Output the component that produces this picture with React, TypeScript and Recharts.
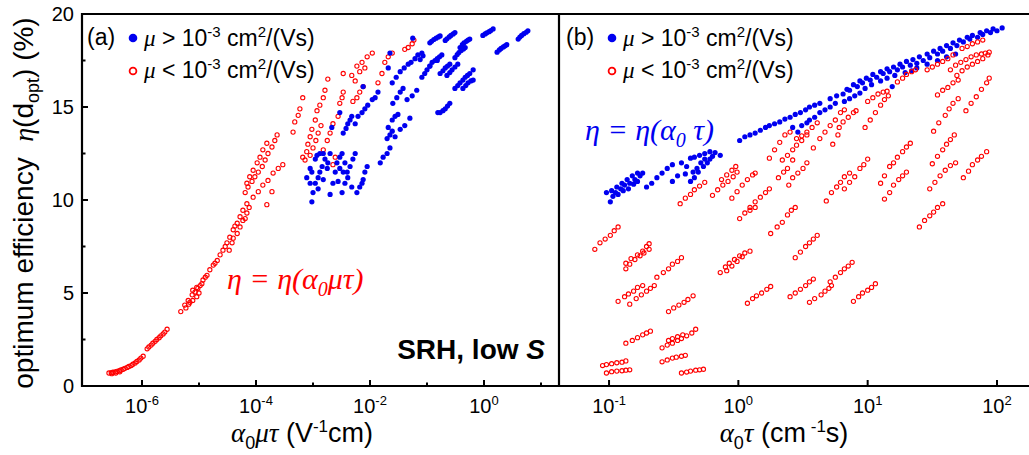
import React from "react";
import { ScatterChart, Scatter, XAxis, YAxis } from "recharts";

const SANS = "'Liberation Sans', Arial, sans-serif";
const SERIF = "'Liberation Serif', 'Times New Roman', serif";
const BLUE = "#0000f0";
const RED = "#ff0000";

// panel (a): [log10(alpha0*mu*tau), eta %]
const aRedLg: [number, number][] = [
  [-6.58, 0.7], [-6.54, 0.72], [-6.53, 0.66], [-6.51, 0.74], [-6.47, 0.76], [-6.46, 0.7], [-6.44, 0.79], [-6.4, 0.82],
  [-6.39, 0.76], [-6.37, 0.86], [-6.33, 0.9], [-6.3, 0.95], [-6.26, 1.0], [-6.23, 1.05], [-6.19, 1.1], [-6.16, 1.17],
  [-6.12, 1.24], [-6.09, 1.32], [-6.05, 1.4], [-6.02, 1.5], [-5.98, 1.6],
  [-5.91, 2.0], [-5.88, 2.1], [-5.84, 2.2], [-5.81, 2.3], [-5.77, 2.4], [-5.74, 2.5], [-5.7, 2.6], [-5.67, 2.7],
  [-5.63, 2.8], [-5.6, 2.9], [-5.56, 3.05],
  [-5.32, 4.0], [-5.25, 4.35], [-5.23, 4.2], [-5.19, 4.6], [-5.18, 4.4], [-5.16, 4.5], [-5.12, 4.9], [-5.11, 4.6],
  [-5.11, 5.15], [-5.07, 5.05], [-5.04, 4.8], [-5.04, 5.3], [-5.02, 5.25], [-5.0, 5.0], [-4.98, 5.4], [-4.95, 5.5],
  [-4.93, 5.7], [-4.89, 5.85], [-4.86, 5.95], [-4.81, 6.25], [-4.75, 6.5], [-4.72, 6.6], [-4.68, 6.75], [-4.63, 7.05],
  [-4.58, 7.3], [-4.54, 7.5], [-4.51, 7.7], [-4.47, 7.3], [-4.46, 8.0], [-4.42, 7.7], [-4.4, 8.4], [-4.4, 7.95],
  [-4.37, 8.6], [-4.33, 8.75], [-4.33, 8.2], [-4.28, 9.1], [-4.28, 8.55], [-4.23, 9.45], [-4.23, 8.9], [-4.19, 9.0],
  [-4.16, 9.8], [-4.16, 9.3], [-4.12, 9.6], [-3.81, 9.75],
  [-4.19, 10.4], [-4.14, 10.7], [-4.07, 11.0], [-4.02, 11.25], [-3.96, 11.5], [-3.89, 11.8], [-3.84, 12.15], [-3.79, 12.5],
  [-3.72, 12.85], [-3.67, 13.2], [-3.63, 13.5], [-4.16, 10.9], [-4.11, 11.25], [-4.05, 11.6], [-3.98, 12.0], [-3.93, 12.3],
  [-3.88, 12.7], [-3.81, 13.05], [-4.05, 10.15], [-3.96, 10.45], [-3.88, 10.8], [-3.79, 11.05], [-3.7, 11.45], [-3.61, 11.7],
  [-3.53, 11.9], [-3.72, 10.45],
  [-3.35, 13.65], [-3.32, 14.2], [-3.26, 14.55], [-3.23, 14.9], [-3.18, 15.5],
  [-3.14, 12.15], [-3.11, 12.6], [-3.09, 13.0], [-3.05, 13.4], [-3.02, 13.8], [-2.96, 14.3], [-2.93, 14.8], [-2.88, 15.1],
  [-2.82, 15.5], [-2.79, 15.9], [-2.74, 16.5], [-3.05, 12.4], [-3.0, 12.8], [-2.95, 13.2], [-2.91, 13.6], [-2.86, 14.0],
  [-2.82, 12.7], [-2.75, 13.2], [-2.7, 13.6], [-2.65, 14.1], [-2.56, 14.5], [-2.53, 15.2], [-2.49, 15.5], [-2.47, 15.8],
  [-2.47, 16.8], [-3.18, 12.3], [-2.65, 11.9], [-2.61, 12.3],
  [-2.32, 16.7], [-2.23, 17.2], [-2.14, 17.4], [-2.05, 17.7], [-1.96, 17.9], [-2.09, 17.1], [-2.18, 16.9], [-2.26, 16.4],
  [-2.3, 15.3], [-2.23, 15.5], [-2.18, 15.8], [-2.12, 16.1], [-1.86, 16.3], [-1.79, 16.8], [-1.74, 17.4], [-1.68, 17.7],
  [-1.61, 17.9], [-1.39, 18.1], [-1.33, 18.2], [-1.26, 18.4], [-1.23, 18.6],
];

const aBlueLg: [number, number][] = [
  [-3.02, 9.9], [-3.0, 10.4], [-3.05, 10.9], [-3.11, 11.2], [-3.05, 11.7], [-2.96, 12.2], [-2.93, 12.4], [-2.88, 12.5],
  [-2.82, 12.5], [-2.7, 12.5], [-2.91, 11.2], [-2.84, 11.8], [-2.82, 11.1], [-2.79, 12.2], [-2.75, 11.7], [-2.96, 10.9],
  [-2.91, 10.6], [-2.88, 11.5], [-3.02, 11.5], [-2.74, 12.0],
  [-2.7, 10.3], [-2.65, 10.9], [-2.61, 11.5], [-2.58, 12.0], [-2.53, 12.3], [-2.49, 12.5], [-2.47, 11.5], [-2.44, 10.9],
  [-2.49, 10.4], [-2.39, 11.2], [-2.35, 11.8], [-2.3, 12.2], [-2.26, 12.5], [-2.32, 10.7], [-2.56, 11.0], [-2.53, 11.7],
  [-2.44, 12.0], [-2.4, 11.5],
  [-2.23, 10.4], [-2.18, 10.7], [-2.12, 11.1], [-2.09, 11.5], [-2.05, 11.8], [-2.14, 10.9],
  [-2.67, 13.9], [-2.53, 14.7], [-2.47, 13.6], [-2.42, 13.85], [-2.39, 14.1], [-2.35, 14.3], [-2.32, 14.5],
  [-2.26, 14.1], [-2.21, 14.5], [-2.14, 14.7], [-2.09, 14.9], [-2.04, 15.1], [-1.96, 15.4], [-1.91, 15.5], [-1.86, 15.8],
  [-2.12, 16.1], [-1.82, 12.0], [-1.77, 12.3], [-1.7, 12.5], [-1.65, 12.8], [-1.7, 13.3], [-1.65, 13.5], [-1.61, 13.7],
  [-1.68, 13.9], [-1.61, 14.3], [-1.56, 14.5], [-1.51, 14.6], [-1.56, 13.4], [-1.47, 13.8], [-1.39, 14.0], [-1.3, 14.4],
  [-1.6, 15.2], [-1.53, 15.5], [-1.47, 15.8], [-1.42, 16.0], [-1.61, 16.3], [-1.54, 16.6], [-1.47, 16.9], [-1.4, 17.1],
  [-1.33, 17.3], [-1.68, 17.1], [-1.65, 17.9], [-1.35, 15.4], [-1.26, 15.6], [-1.18, 15.9], [-1.28, 17.4], [-1.21, 17.6],
  [-1.16, 17.8], [-1.09, 17.9], [-1.25, 18.7], [-0.95, 17.2], [-0.82, 17.5], [-0.81, 14.7],
  [-0.95, 18.45], [-0.92, 18.53], [-0.88, 18.63], [-0.84, 18.7], [-0.8, 18.77], [-0.77, 18.82],
  [-0.68, 18.58], [-0.65, 18.67], [-0.61, 18.77], [-0.58, 18.85], [-0.54, 18.93], [-0.51, 19.0],
  [-0.02, 18.85], [0.02, 18.93], [0.05, 18.99], [0.09, 19.05], [0.12, 19.11], [0.16, 19.2],
  [0.6, 18.65], [0.63, 18.76], [0.66, 18.85], [0.7, 18.94], [0.74, 19.02], [0.77, 19.1],
  [0.23, 17.95], [0.27, 18.07], [0.3, 18.15], [0.34, 18.23], [0.37, 18.29], [0.4, 18.35],
  [-0.42, 18.2], [-0.38, 18.35], [-0.35, 18.45], [-0.31, 18.53], [-0.28, 18.6], [-0.25, 18.65],
  [-0.51, 17.65], [-0.47, 17.82], [-0.44, 17.93], [-0.4, 18.04], [-0.36, 18.12], [-0.33, 18.2],
  [-1.12, 17.55], [-1.07, 17.75],
  [-1.09, 16.6], [-1.04, 16.8], [-1.0, 17.0], [-0.95, 17.2], [-0.91, 17.4], [-0.86, 17.5], [-0.82, 17.6], [-0.78, 17.7], [-0.74, 17.8],
  [-0.77, 16.8], [-0.72, 16.95], [-0.68, 17.1], [-0.64, 17.2], [-0.6, 17.3],
  [-0.65, 16.7], [-0.6, 16.85], [-0.56, 17.0], [-0.51, 17.15], [-0.46, 17.3],
  [-0.51, 16.0], [-0.46, 16.15], [-0.42, 16.3], [-0.37, 16.45], [-0.33, 16.6], [-0.29, 16.7], [-0.25, 16.8], [-0.19, 17.0],
  [-0.37, 16.0], [-0.32, 16.15], [-0.28, 16.3], [-0.23, 16.4], [-0.19, 16.45],
  [-0.77, 14.7], [-0.72, 14.8], [-0.68, 14.9], [-0.64, 15.05], [-0.6, 15.2],
];

// panel (b): [log10(alpha0*tau), eta %]
const bBlueLg: [number, number][] = [
  [-0.99, 9.9], [-1.02, 10.4], [-0.98, 10.5], [-0.94, 10.7], [-0.9, 10.9], [-0.86, 11.1], [-0.82, 11.3], [-0.78, 11.45],
  [-0.74, 11.45], [-0.95, 10.4], [-0.91, 10.6], [-0.88, 10.8], [-0.84, 10.9], [-0.8, 11.1], [-0.76, 11.3], [-0.97, 10.2],
  [-0.93, 10.3], [-0.89, 10.5], [-0.85, 10.6], [-0.81, 10.85], [-0.78, 11.0],
  [-0.71, 10.7], [-0.67, 10.9], [-0.63, 11.2], [-0.59, 11.45], [-0.55, 11.7], [-0.51, 11.9],
  [-0.51, 11.0], [-0.47, 11.3], [-0.44, 12.0], [-0.4, 11.8], [-0.37, 12.25], [-0.34, 12.3], [-0.3, 12.4], [-0.26, 12.5],
  [-0.22, 12.6], [-0.18, 12.55], [-0.14, 12.4], [-0.37, 11.0], [-0.34, 11.2], [-0.31, 11.5], [-0.27, 11.8], [-0.24, 12.0],
  [-0.22, 12.2], [-0.2, 12.35], [-0.35, 11.5], [-0.32, 11.7], [-0.29, 12.0], [-0.26, 12.2], [-0.41, 11.4],
  [0.01, 13.2], [0.05, 13.4], [0.09, 13.5], [0.13, 13.6], [0.17, 13.75], [0.21, 13.9], [0.24, 14.0], [0.28, 14.1],
  [0.32, 14.2], [0.36, 14.35], [0.4, 14.45], [0.44, 14.6], [0.48, 14.7], [0.52, 14.85], [0.55, 15.0], [0.59, 15.1], [0.63, 15.2],
  [0.42, 13.9], [0.46, 13.65], [0.49, 14.0], [0.53, 14.15], [0.55, 14.3], [0.59, 14.45], [0.63, 14.7], [0.67, 14.85],
  [0.71, 15.0], [0.75, 15.2], [0.82, 15.3], [0.86, 15.45], [0.9, 15.6], [0.94, 15.75],
  [0.71, 15.45], [0.76, 15.6], [0.81, 15.7], [0.86, 15.9], [0.92, 16.1], [0.96, 16.3], [1.02, 16.45], [1.07, 16.6],
  [1.12, 16.8], [1.17, 16.9], [1.23, 17.0], [1.27, 17.15], [1.33, 17.25], [1.38, 17.35], [1.43, 17.5], [1.48, 17.65],
  [1.54, 17.85], [1.58, 18.0], [1.64, 18.15], [1.69, 18.3], [1.74, 18.5], [1.79, 18.65], [1.85, 18.75], [1.89, 18.9],
  [1.95, 19.0], [2.0, 19.1], [2.04, 19.25],
  [0.84, 15.95], [0.89, 16.2], [0.94, 16.4], [0.99, 16.55], [1.04, 16.75], [1.1, 16.9], [1.15, 17.05], [1.2, 17.15],
  [1.25, 17.3], [1.3, 17.45], [1.35, 17.55], [1.4, 17.7], [1.46, 17.85], [1.51, 18.0], [1.56, 18.15], [1.61, 18.3],
  [1.66, 18.45], [1.71, 18.6], [1.77, 18.75], [1.81, 18.85], [1.87, 19.0], [1.92, 19.1], [1.97, 19.2],
  [0.98, 16.0], [1.03, 16.2], [1.1, 16.4], [1.15, 16.55], [1.21, 16.7], [1.29, 16.85], [1.34, 16.95], [1.38, 17.1],
  [1.46, 17.3], [1.54, 17.5], [1.61, 17.7], [1.68, 17.85], [1.19, 16.1],
];

const bRedLg: [number, number][] = [
  [-1.11, 7.35], [-1.07, 7.7], [-1.03, 7.9], [-0.99, 8.1], [-0.96, 8.35], [-0.93, 8.55],
  [-0.87, 6.3], [-0.84, 6.55], [-0.8, 6.8], [-0.76, 7.0], [-0.73, 7.15], [-0.69, 7.35],
  [-0.87, 6.6], [-0.83, 6.85], [-0.78, 7.05], [-0.74, 7.25], [-0.71, 7.5], [-0.69, 7.65],
  [-0.63, 5.85], [-0.58, 6.1], [-0.54, 6.3], [-0.51, 6.55], [-0.47, 6.7], [-0.44, 6.9],
  [-0.93, 4.55], [-0.88, 4.8], [-0.85, 4.95], [-0.81, 5.1], [-0.78, 5.3], [-0.74, 5.4],
  [-0.84, 4.4], [-0.79, 4.7], [-0.75, 4.9], [-0.71, 5.1], [-0.68, 5.25], [-0.65, 5.4],
  [-0.54, 4.0], [-0.5, 4.2], [-0.46, 4.35], [-0.42, 4.5], [-0.39, 4.65], [-0.35, 4.85],
  [-0.87, 2.3], [-0.82, 2.45], [-0.78, 2.6], [-0.74, 2.75], [-0.71, 2.85], [-0.68, 2.95],
  [-0.59, 2.05], [-0.55, 2.2], [-0.51, 2.3], [-0.47, 2.45], [-0.44, 2.55], [-0.4, 2.7], [-0.36, 2.85], [-0.33, 3.05],
  [-0.54, 2.45], [-0.51, 2.55], [-0.47, 2.65], [-0.43, 2.75],
  [-0.59, 1.3], [-0.55, 1.4], [-0.51, 1.5], [-0.48, 1.55], [-0.44, 1.6], [-0.41, 1.65],
  [-1.05, 1.1], [-1.02, 1.15], [-0.98, 1.2], [-0.94, 1.25], [-0.9, 1.28], [-0.87, 1.35],
  [-1.02, 0.7], [-0.98, 0.77], [-0.94, 0.8], [-0.9, 0.82], [-0.87, 0.85], [-0.84, 0.87],
  [-0.44, 0.7], [-0.4, 0.75], [-0.37, 0.8], [-0.33, 0.85], [-0.3, 0.87], [-0.27, 0.9],
  [-0.14, 6.1], [-0.1, 6.4], [-0.07, 6.6], [-0.03, 6.8], [0.01, 7.0], [0.05, 7.15], [0.09, 7.25],
  [-0.09, 6.2], [-0.05, 6.45], [-0.01, 6.7], [0.03, 6.95],
  [0.07, 4.45], [0.11, 4.7], [0.14, 4.85], [0.18, 5.0], [0.22, 5.2], [0.25, 5.35],
  [0.25, 8.2], [0.3, 8.55], [0.34, 8.8], [0.38, 9.2], [0.41, 9.45], [0.44, 9.6],
  [0.44, 6.9], [0.48, 7.2], [0.52, 7.5], [0.55, 7.7], [0.58, 7.9], [0.61, 8.1],
  [0.4, 4.8], [0.44, 5.0], [0.48, 5.2], [0.52, 5.4], [0.55, 5.6], [0.58, 5.75],
  [0.55, 4.5], [0.59, 4.7], [0.64, 4.9], [0.67, 5.1], [0.7, 5.25], [0.72, 5.4], [0.71, 5.6],
  [0.75, 5.85], [0.79, 6.1], [0.82, 6.3], [0.85, 6.45], [0.88, 6.65],
  [0.89, 4.55], [0.93, 4.8], [0.96, 5.0], [1.0, 5.15], [1.03, 5.3], [1.06, 5.5],
  [1.4, 8.55], [1.44, 8.9], [1.48, 9.15], [1.51, 9.35], [1.54, 9.6], [1.58, 9.8],
  [0.68, 9.95], [0.72, 10.4], [0.76, 10.7], [0.79, 10.95], [0.82, 11.25], [0.86, 11.45],
  [0.82, 10.6], [0.86, 10.95], [0.9, 11.25], [0.94, 11.7], [0.97, 11.9], [1.0, 12.2],
  [1.1, 10.9], [1.13, 11.3], [1.17, 11.8], [1.2, 12.0], [1.23, 12.3], [1.27, 12.6], [1.3, 12.85], [1.33, 13.05],
  [1.13, 10.05], [1.17, 10.4], [1.2, 10.8], [1.24, 11.1], [1.27, 11.3], [1.3, 11.5],
  [1.48, 10.6], [1.52, 10.95], [1.56, 11.3], [1.6, 11.6], [1.64, 11.85], [1.68, 12.0],
  [1.5, 11.95], [1.54, 12.35], [1.58, 12.7], [1.61, 13.0], [1.64, 13.25], [1.67, 13.5],
  [1.74, 11.2], [1.78, 11.55], [1.81, 11.9], [1.85, 12.15], [1.88, 12.35], [1.92, 12.6],
  [1.51, 13.7], [1.55, 14.15], [1.6, 14.55], [1.63, 14.9], [1.66, 15.2], [1.7, 15.45],
  [1.76, 14.8], [1.8, 15.2], [1.84, 15.55], [1.88, 15.95], [1.92, 16.3], [1.94, 16.55],
  [1.54, 15.65], [1.58, 15.9], [1.62, 16.05], [1.66, 16.3], [1.7, 16.45],
  [1.64, 17.0], [1.68, 17.25], [1.72, 17.4], [1.76, 17.55], [1.8, 17.7], [1.84, 17.8], [1.88, 17.85], [1.91, 17.9], [1.94, 17.95],
  [1.69, 16.7], [1.73, 16.95], [1.77, 17.15], [1.81, 17.3], [1.85, 17.45], [1.89, 17.6], [1.93, 17.8],
  [1.73, 18.15], [1.77, 18.25], [1.81, 18.4], [1.85, 18.5], [1.89, 18.6],
  [1.46, 17.0], [1.5, 17.15], [1.54, 17.3], [1.58, 17.45], [1.62, 17.6], [1.66, 17.8],
  [1.23, 16.35], [1.27, 16.55], [1.3, 16.75], [1.34, 16.9], [1.37, 17.0],
  [0.73, 13.0], [0.77, 13.5], [0.78, 13.9], [0.81, 14.2], [0.85, 14.45], [0.89, 14.7], [0.91, 14.8],
  [0.98, 13.9], [1.02, 14.3], [1.06, 14.7], [1.1, 15.1], [1.13, 15.4], [1.16, 15.6],
  [1.0, 15.3], [1.04, 15.5], [1.08, 15.7], [1.12, 15.8], [1.15, 15.85],
  [-0.05, 10.1], [-0.01, 10.45], [0.03, 10.8], [0.07, 11.1], [0.11, 11.35], [0.13, 11.45],
  [-0.13, 11.1], [-0.09, 11.35], [-0.05, 11.6], [-0.02, 11.8],
  [0.09, 9.6], [0.13, 9.9], [0.17, 10.15], [0.21, 10.4], [0.24, 10.6], [0.31, 11.2], [0.35, 11.5], [0.38, 11.7], [0.42, 12.15],
  [0.24, 12.25], [0.28, 12.7], [0.32, 13.1], [0.36, 13.5], [0.4, 13.65],
  [0.34, 12.15], [0.38, 12.4], [0.42, 12.7], [0.45, 12.95], [0.49, 13.2], [0.53, 13.5], [0.57, 13.9], [0.61, 14.15],
  [0.45, 13.3], [0.49, 13.45], [0.53, 13.65],
  [0.39, 10.8], [0.42, 11.2], [0.46, 11.45], [0.5, 11.7], [0.53, 12.0],
  [0.58, 12.8], [0.63, 13.3], [0.67, 13.65], [0.71, 14.0], [0.75, 14.3], [0.79, 14.7], [0.82, 14.85],
  [-0.45, 9.8], [-0.41, 10.1], [-0.37, 10.3], [-0.34, 10.55], [-0.3, 10.75], [-0.26, 10.95],
  [-0.2, 10.25], [-0.16, 10.55], [-0.12, 10.8], [-0.08, 11.0], [-0.04, 11.25], [-0.01, 11.5],
  [0.01, 9.0], [0.05, 9.3], [0.09, 9.45], [0.13, 9.6],
];

const yTicks = [0, 2.5, 5, 7.5, 10, 12.5, 15, 17.5, 20];
const aXTicks = [1e-6, 1e-5, 1e-4, 1e-3, 1e-2, 1e-1, 1, 10];
const bXTicks = [0.1, 1, 10, 100];
const aDomain = [10 ** -7.053, 10 ** 1.316];
const bDomain = [10 ** -1.387, 10 ** 2.325];

const toPoints = (arr: [number, number][]) => arr.map(([lg, eta]) => ({ x: 10 ** lg, y: eta }));

const exp10 = (v: number) => Math.round(Math.log10(v));

const BlueDot = (p: any) => <circle cx={p.cx} cy={p.cy} r={2.6} fill={BLUE} />;
const RedRing = (p: any) => <circle cx={p.cx} cy={p.cy} r={2.1} fill="none" stroke={RED} strokeWidth={1.1} />;

function BottomTick(props: any) {
  const { x, y, payload, all } = props;
  const e = exp10(payload.value);
  const major = all || e % 2 === 0;
  return (
    <g>
      <path d={`M${x},${y}V${y - (major ? 6 : 3.5)}`} stroke="#000" strokeWidth={2} fill="none" />
      {major && (
        <text x={x} y={y + 27} textAnchor="middle" fontFamily={SANS} fontSize={20} fill="#000">
          10<tspan dy={-8} fontSize={13}>{e}</tspan>
        </text>
      )}
    </g>
  );
}

function TopTick(props: any) {
  const { x, y } = props;
  return <path d={`M${x},${y}V${y + 6}`} stroke="#000" strokeWidth={2} fill="none" />;
}

function LeftTick(props: any) {
  const { x, y, payload } = props;
  const major = payload.value % 5 === 0;
  return (
    <g>
      <path d={`M${x},${y}H${x + (major ? 6 : 3.5)}`} stroke="#000" strokeWidth={2} fill="none" />
      {major && (
        <text x={x - 8} y={y + 7} textAnchor="end" fontFamily={SANS} fontSize={20} fill="#000">
          {payload.value}
        </text>
      )}
    </g>
  );
}

function MidTick(props: any) {
  const { x, y, payload } = props;
  const h = payload.value % 5 === 0 ? 7 : 3.5;
  return <path d={`M${x - h},${y}H${x + h}`} stroke="#000" strokeWidth={2} fill="none" />;
}

function PanelA() {
  return (
    <ScatterChart width={570} height={455} margin={{ top: 14, right: 11, bottom: 0, left: 0 }}>
      <XAxis xAxisId="b" type="number" dataKey="x" scale="log" domain={aDomain} allowDataOverflow
        ticks={aXTicks} interval={0} tickLine={false} tickSize={0} tickMargin={0} height={69}
        axisLine={false} tick={(p: any) => <BottomTick {...p} />} />
      <XAxis xAxisId="t" orientation="top" type="number" dataKey="x" scale="log" domain={aDomain} allowDataOverflow
        ticks={aXTicks} interval={0} tickLine={false} tickSize={0} tickMargin={0} height={0}
        axisLine={false} tick={(p: any) => <TopTick {...p} />} />
      <YAxis yAxisId="l" type="number" dataKey="y" domain={[0, 20]} ticks={yTicks} interval={0}
        tickLine={false} tickSize={0} tickMargin={0} width={82} axisLine={false}
        tick={(p: any) => <LeftTick {...p} />} />
      <YAxis yAxisId="r" orientation="right" type="number" dataKey="y" domain={[0, 20]} ticks={yTicks} interval={0}
        tickLine={false} tickSize={0} tickMargin={0} width={0} axisLine={false}
        tick={(p: any) => <MidTick {...p} />} />
      <Scatter xAxisId="b" yAxisId="l" data={toPoints(aRedLg)} shape={RedRing} isAnimationActive={false} />
      <Scatter xAxisId="b" yAxisId="l" data={toPoints(aBlueLg)} shape={BlueDot} isAnimationActive={false} />
    </ScatterChart>
  );
}

function PanelB() {
  return (
    <ScatterChart width={490} height={455} margin={{ top: 14, right: 0, bottom: 0, left: 10 }}>
      <XAxis xAxisId="b" type="number" dataKey="x" scale="log" domain={bDomain} allowDataOverflow
        ticks={bXTicks} interval={0} tickLine={false} tickSize={0} tickMargin={0} height={69}
        axisLine={false} tick={(p: any) => <BottomTick {...p} all />} />
      <XAxis xAxisId="t" orientation="top" type="number" dataKey="x" scale="log" domain={bDomain} allowDataOverflow
        ticks={bXTicks} interval={0} tickLine={false} tickSize={0} tickMargin={0} height={0}
        axisLine={false} tick={(p: any) => <TopTick {...p} />} />
      <YAxis yAxisId="l" type="number" dataKey="y" domain={[0, 20]} hide />
      <Scatter xAxisId="b" yAxisId="l" data={toPoints(bBlueLg)} shape={BlueDot} isAnimationActive={false} />
      <Scatter xAxisId="b" yAxisId="l" data={toPoints(bRedLg)} shape={RedRing} isAnimationActive={false} />
    </ScatterChart>
  );
}

const greek = { fontFamily: SERIF, fontStyle: "italic" as const };

function Legend({ x, panel }: { x: number; panel: string }) {
  const tx = x + 11;
  return (
    <g fontFamily={SANS} fontSize={23} fill="#000">
      <text x={x - 46} y={45}>{panel}</text>
      <circle cx={x} cy={38} r={4.3} fill={BLUE} />
      <text x={tx} y={46}>
        <tspan {...greek}>μ</tspan> &gt; 10<tspan dy={-9} fontSize={15}>-3</tspan>
        <tspan dy={9}> cm</tspan><tspan dy={-9} fontSize={15}>2</tspan><tspan dy={9}>/(Vs)</tspan>
      </text>
      <circle cx={x} cy={71} r={3.4} fill="none" stroke={RED} strokeWidth={1.8} />
      <text x={tx} y={78}>
        <tspan {...greek}>μ</tspan> &lt; 10<tspan dy={-9} fontSize={15}>-3</tspan>
        <tspan dy={9}> cm</tspan><tspan dy={-9} fontSize={15}>2</tspan><tspan dy={9}>/(Vs)</tspan>
      </text>
    </g>
  );
}

// panel frames (plot-area edges of the two charts)
const FRAME = { l: 82, mid: 559, r: 1029, t: 14, b: 386 };

function Overlay() {
  const f = FRAME;
  return (
    <svg width={1029} height={455} style={{ position: "absolute", left: 0, top: 0, pointerEvents: "none" }}>
      <path d={`M${f.l},${f.t}H${f.r}M${f.l},${f.b}H${f.r}M${f.l},${f.t - 1}V${f.b + 1}M${f.mid},${f.t - 1}V${f.b + 1}`}
        stroke="#000" strokeWidth={2.2} fill="none" />
      <Legend x={133} panel="(a)" />
      <Legend x={612} panel="(b)" />
      <text transform="translate(33,203) rotate(-90)" textAnchor="middle" fontFamily={SANS} fontSize={28} fill="#000">
        optimum efficiency{"\u00a0\u00a0"}<tspan {...greek}>η</tspan>(d<tspan dy={6} fontSize={18}>opt</tspan>
        <tspan dy={-6}>) (%)</tspan>
      </text>
      <text x={302} y={442} textAnchor="middle" fontFamily={SANS} fontSize={27} fill="#000">
        <tspan {...greek}>α</tspan><tspan dy={7} fontSize={18}>0</tspan>
        <tspan dy={-7} {...greek}>μτ</tspan> (V<tspan dy={-10} fontSize={17}>-1</tspan><tspan dy={10}>cm)</tspan>
      </text>
      <text x={784} y={442} textAnchor="middle" fontFamily={SANS} fontSize={27} fill="#000">
        <tspan {...greek}>α</tspan><tspan dy={7} fontSize={18}>0</tspan>
        <tspan dy={-7} {...greek}>τ</tspan> (cm<tspan dy={-10} fontSize={17}> -1</tspan><tspan dy={10}>s)</tspan>
      </text>
      <text x={227} y={289} fontFamily={SERIF} fontStyle="italic" fontSize={30} fill={RED}>
        η = η(α<tspan dy={7} fontSize={20}>0</tspan><tspan dy={-7}>μτ)</tspan>
      </text>
      <text x={585} y={140} fontFamily={SERIF} fontStyle="italic" fontSize={30} fill={BLUE}>
        η = η(α<tspan dy={7} fontSize={20}>0</tspan><tspan dy={-7}> τ)</tspan>
      </text>
      <text x={545} y={359} textAnchor="end" fontFamily={SANS} fontWeight="bold" fontSize={28} fill="#000">
        SRH, low <tspan fontStyle="italic">S</tspan>
      </text>
    </svg>
  );
}

export default function App() {
  return (
    <div style={{ position: "absolute", left: 0, top: 0, width: 1029, height: 455, overflow: "hidden", background: "#fff" }}>
      <div style={{ position: "absolute", left: 0, top: 0 }}>
        <PanelA />
      </div>
      <div style={{ position: "absolute", left: 549, top: 0 }}>
        <PanelB />
      </div>
      <Overlay />
    </div>
  );
}
